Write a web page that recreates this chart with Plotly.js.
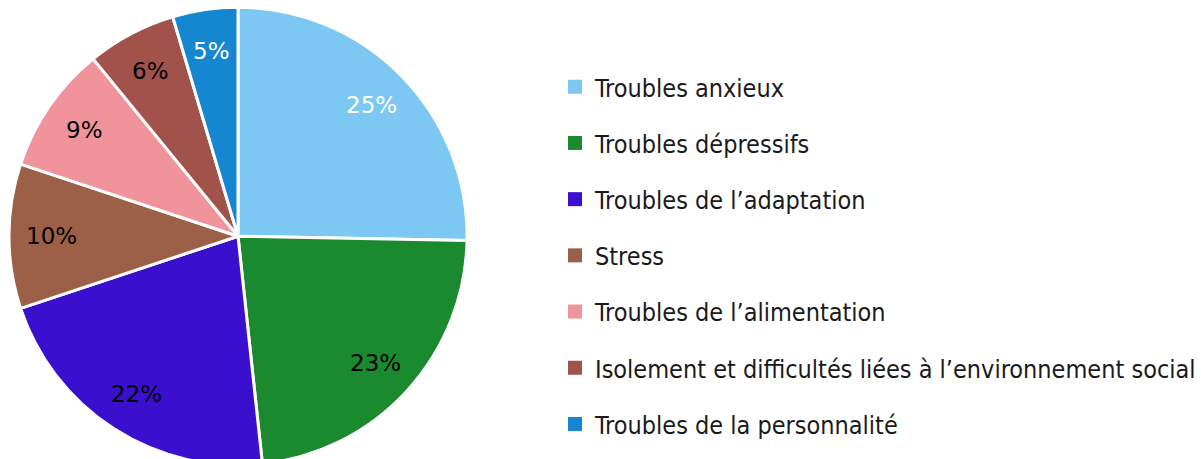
<!DOCTYPE html>
<html>
<head>
<meta charset="utf-8">
<script src="https://cdn.plot.ly/plotly-3.0.1.min.js"></script>
<style>
html,body{margin:0;padding:0;overflow:hidden;background:#fff;}
#chart{width:1201px;height:500px;}
</style>
</head>
<body>
<div id="chart"></div>
<script>
const categories = [
  "Troubles anxieux",
  "Troubles dépressifs",
  "Troubles de l\u2019adaptation",
  "Stress",
  "Troubles de l\u2019alimentation",
  "Isolement et difficultés liées à l\u2019environnement social",
  "Troubles de la personnalité"
];
const values = [25.3, 23.0, 21.6, 10.2, 9.0, 6.3, 4.6];
const colors = ["#7DC8F2", "#1B8A2E", "#3B0FCE", "#9C5F47", "#F0939A", "#A0524B", "#1487D0"];
const textColors = ["#ffffff", "#000000", "#000000", "#000000", "#000000", "#000000", "#ffffff"];

// figure geometry
const W = 1201, H = 500, T = 6;
const plotH = H - T;
const domX = [9 / W, 469 / W];
const domY = [(plotH - 460.5) / plotH, 1];

const pie = {
  type: "pie",
  labels: categories,
  values: values,
  sort: false,
  direction: "clockwise",
  rotation: 0,
  marker: {colors: colors, line: {color: "#ffffff", width: 3}},
  textinfo: "none",
  textposition: "none",
  showlegend: false,
  hoverinfo: "label+percent",
  domain: {x: domX, y: domY}
};

// percentage labels placed along each slice's mid angle
const total = values.reduce((a, b) => a + b, 0);
const radPx = Math.min((domX[1] - domX[0]) * W, (domY[1] - domY[0]) * plotH) / 2;
const cx = (domX[0] + domX[1]) / 2, cy = (domY[0] + domY[1]) / 2;
const labelR = 0.815 * radPx;
let cum = 0;
const annotations = values.map((v, i) => {
  const mid = (cum + v / 2) / total * 2 * Math.PI;
  cum += v;
  return {
    xref: "paper", yref: "paper",
    x: cx + Math.sin(mid) * labelR / W,
    y: cy + Math.cos(mid) * labelR / plotH,
    xanchor: "center", yanchor: "middle",
    showarrow: false,
    text: Math.round(v / total * 100) + "%",
    font: {family: "DejaVu Sans", size: 23, color: textColors[i]}
  };
});

const legendTraces = categories.map((c, i) => ({
  type: "scatter",
  x: [null], y: [null],
  mode: "markers",
  name: c,
  legendgroup: "g" + i,
  marker: {symbol: "square", size: 14, color: colors[i]},
  showlegend: true,
  hoverinfo: "skip"
}));

const layout = {
  width: W,
  height: H,
  margin: {l: 0, r: 0, t: T, b: 0},
  paper_bgcolor: "#ffffff",
  plot_bgcolor: "#ffffff",
  xaxis: {visible: false, domain: [0.9, 0.91]},
  yaxis: {visible: false, domain: [0.9, 0.91]},
  showlegend: true,
  annotations: annotations,
  legend: {
    x: 0.4642, y: 1 - (64 - T) / plotH, xanchor: "left", yanchor: "top",
    font: {family: "DejaVu Sans Condensed", size: 25, color: "#1a1a1a"},
    tracegroupgap: 20.7,
    itemwidth: 30,
    bgcolor: "rgba(0,0,0,0)"
  }
};

Plotly.newPlot("chart", [pie].concat(legendTraces), layout, {displayModeBar: false, staticPlot: true});
</script>
</body>
</html>
